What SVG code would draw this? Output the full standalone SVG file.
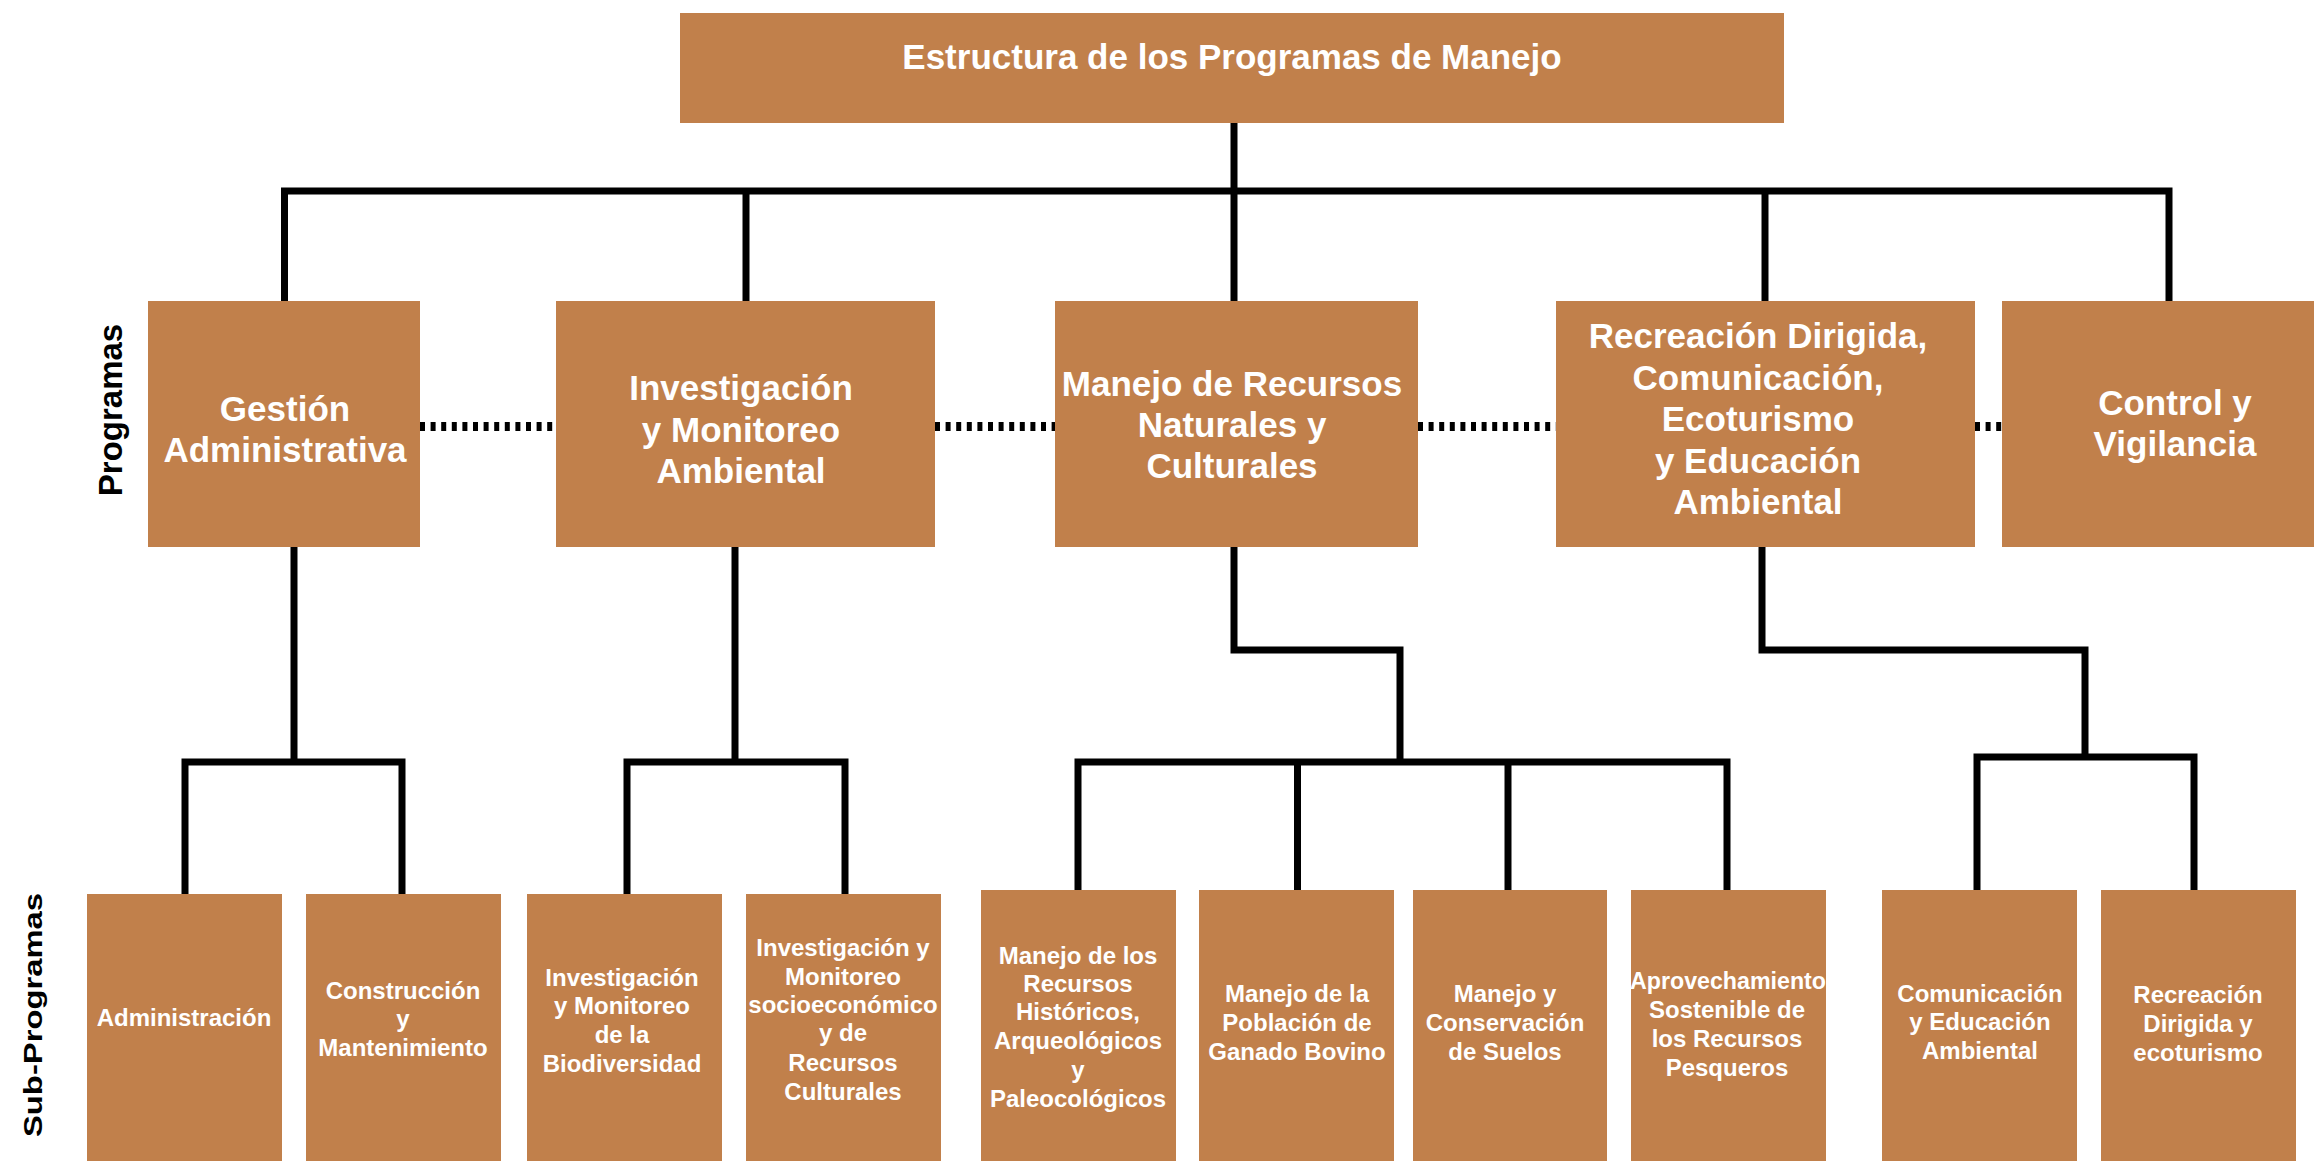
<svg xmlns="http://www.w3.org/2000/svg" width="2314" height="1161" viewBox="0 0 2314 1161">
<style>
.box{fill:#C1804B;}
.t{font-family:"Liberation Sans",Arial,sans-serif;font-weight:bold;fill:#FFFFFF;text-anchor:middle;}
.p{font-size:35px;}
.s{font-size:24px;}
.lbl{font-family:"Liberation Sans",Arial,sans-serif;font-weight:bold;fill:#000000;text-anchor:middle;}
.ln{fill:none;stroke:#000000;stroke-width:7;stroke-linejoin:miter;stroke-linecap:butt;}
.dot{fill:none;stroke:#000000;stroke-width:9;stroke-dasharray:5 5.6;}
</style>
<rect width="2314" height="1161" fill="#FFFFFF"/>
<g id="connectors">
<path class="ln" d="M1234 123 V301"/>
<path class="ln" d="M284.5 301 V191 H2169 V301"/>
<path class="ln" d="M746 191 V301"/>
<path class="ln" d="M1765 191 V301"/>
<path class="ln" d="M294 547 V762"/>
<path class="ln" d="M185 894 V762 H402 V894"/>
<path class="ln" d="M735 547 V762"/>
<path class="ln" d="M627 894 V762 H845 V894"/>
<path class="ln" d="M1234 547 V650 H1400 V762"/>
<path class="ln" d="M1078 890 V762 H1727 V890"/>
<path class="ln" d="M1297.5 762 V890"/>
<path class="ln" d="M1508 762 V890"/>
<path class="ln" d="M1762 547 V650 H2085 V757"/>
<path class="ln" d="M1977 890 V757 H2194 V890"/>
<path class="dot" d="M420 426.5 H556"/>
<path class="dot" d="M935 426.5 H1055"/>
<path class="dot" d="M1418 426.5 H1556"/>
<path class="dot" d="M1975 426.5 H2002"/>
</g>
<text class="lbl" font-size="33" transform="translate(122,410) rotate(-90)">Programas</text>
<text class="lbl" font-size="26" textLength="244" lengthAdjust="spacingAndGlyphs" transform="translate(42,1015) rotate(-90)">Sub-Programas</text>
<g id="root">
<rect class="box" x="680" y="13" width="1104" height="110"/>
<text class="t p" x="1232" y="69">Estructura de los Programas de Manejo</text>
</g>
<g id="prog-gestion">
<rect class="box" x="148" y="301" width="272" height="246"/>
<text class="t p" x="285"><tspan x="285" y="421">Gestión</tspan><tspan x="285" y="462">Administrativa</tspan></text>
</g>
<g id="prog-investigacion">
<rect class="box" x="556" y="301" width="379" height="246"/>
<text class="t p"><tspan x="741" y="400">Investigación</tspan><tspan x="741" y="442">y Monitoreo</tspan><tspan x="741" y="483">Ambiental</tspan></text>
</g>
<g id="prog-manejo">
<rect class="box" x="1055" y="301" width="363" height="246"/>
<text class="t p"><tspan x="1232" y="396">Manejo de Recursos</tspan><tspan x="1232" y="437">Naturales y</tspan><tspan x="1232" y="478">Culturales</tspan></text>
</g>
<g id="prog-recreacion">
<rect class="box" x="1556" y="301" width="419" height="246"/>
<text class="t p"><tspan x="1758" y="348">Recreación Dirigida,</tspan><tspan x="1758" y="390">Comunicación,</tspan><tspan x="1758" y="431">Ecoturismo</tspan><tspan x="1758" y="473">y Educación</tspan><tspan x="1758" y="514">Ambiental</tspan></text>
</g>
<g id="prog-control">
<rect class="box" x="2002" y="301" width="312" height="246"/>
<text class="t p"><tspan x="2175" y="415">Control y</tspan><tspan x="2175" y="456">Vigilancia</tspan></text>
</g>
<g id="sub-administracion">
<rect class="box" x="87" y="894" width="195" height="267"/>
<text class="t s" x="184" y="1026">Administración</text>
</g>
<g id="sub-construccion">
<rect class="box" x="306" y="894" width="195" height="267"/>
<text class="t s"><tspan x="403" y="999">Construcción</tspan><tspan x="403" y="1027">y</tspan><tspan x="403" y="1056">Mantenimiento</tspan></text>
</g>
<g id="sub-biodiversidad">
<rect class="box" x="527" y="894" width="195" height="267"/>
<text class="t s"><tspan x="622" y="986">Investigación</tspan><tspan x="622" y="1014">y Monitoreo</tspan><tspan x="622" y="1043">de la</tspan><tspan x="622" y="1072">Biodiversidad</tspan></text>
</g>
<g id="sub-socioeconomico">
<rect class="box" x="746" y="894" width="195" height="267"/>
<text class="t s"><tspan x="843" y="956">Investigación y</tspan><tspan x="843" y="985">Monitoreo</tspan><tspan x="843" y="1013">socioeconómico</tspan><tspan x="843" y="1041">y de</tspan><tspan x="843" y="1071">Recursos</tspan><tspan x="843" y="1100">Culturales</tspan></text>
</g>
<g id="sub-historicos">
<rect class="box" x="981" y="890" width="195" height="271"/>
<text class="t s"><tspan x="1078" y="964">Manejo de los</tspan><tspan x="1078" y="992">Recursos</tspan><tspan x="1078" y="1020">Históricos,</tspan><tspan x="1078" y="1049">Arqueológicos</tspan><tspan x="1078" y="1078">y</tspan><tspan x="1078" y="1107">Paleocológicos</tspan></text>
</g>
<g id="sub-bovino">
<rect class="box" x="1199" y="890" width="195" height="271"/>
<text class="t s"><tspan x="1297" y="1002">Manejo de la</tspan><tspan x="1297" y="1031">Población de</tspan><tspan x="1297" y="1060">Ganado Bovino</tspan></text>
</g>
<g id="sub-suelos">
<rect class="box" x="1413" y="890" width="194" height="271"/>
<text class="t s"><tspan x="1505" y="1002">Manejo y</tspan><tspan x="1505" y="1031">Conservación</tspan><tspan x="1505" y="1060">de Suelos</tspan></text>
</g>
<g id="sub-pesqueros">
<rect class="box" x="1631" y="890" width="195" height="271"/>
<text class="t s"><tspan x="1728" y="989" textLength="196" lengthAdjust="spacingAndGlyphs">Aprovechamiento</tspan><tspan x="1727" y="1018">Sostenible de</tspan><tspan x="1727" y="1047">los Recursos</tspan><tspan x="1727" y="1076">Pesqueros</tspan></text>
</g>
<g id="sub-comunicacion">
<rect class="box" x="1882" y="890" width="195" height="271"/>
<text class="t s"><tspan x="1980" y="1002">Comunicación</tspan><tspan x="1980" y="1030">y Educación</tspan><tspan x="1980" y="1059">Ambiental</tspan></text>
</g>
<g id="sub-recreacion">
<rect class="box" x="2101" y="890" width="195" height="271"/>
<text class="t s"><tspan x="2198" y="1003">Recreación</tspan><tspan x="2198" y="1032">Dirigida y</tspan><tspan x="2198" y="1061">ecoturismo</tspan></text>
</g>
</svg>
